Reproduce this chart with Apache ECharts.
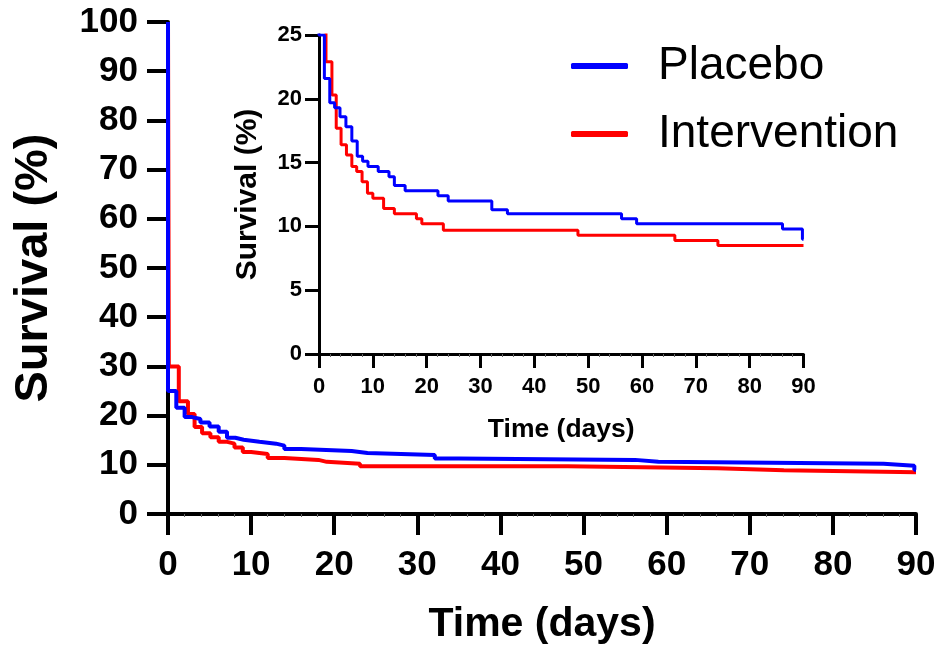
<!DOCTYPE html>
<html>
<head>
<meta charset="utf-8">
<script src="https://cdn.jsdelivr.net/npm/echarts@6/dist/echarts.min.js"></script>
<style>
html, body { margin: 0; padding: 0; background: #fff; }
#chart { width: 941px; height: 651px; }
</style>
</head>
<body>
<div id="chart"></div>
<script>
// Kaplan-Meier steps: day of each step, survival (%) after it
var placeboDays = [0, 0, 1.0, 2.0, 2.9, 3.9, 5.0, 6.1, 7.1, 8.1, 9.1, 11.0, 13.0, 14.0, 16.0, 22.1, 24.0, 32.1, 35.0, 56.2, 59.0, 86.1, 89.8, 90];
var placeboSurv = [100, 25, 21.6, 19.7, 19.3, 18.6, 17.8, 16.7, 15.5, 15.1, 14.7, 14.3, 13.9, 13.2, 12.8, 12.4, 12.0, 11.3, 11.0, 10.6, 10.2, 9.8, 9.0, 9.0];
var interventionDays = [0, 0.1, 1.3, 2.4, 3.2, 4.1, 5.1, 6.1, 7.0, 8.0, 9.0, 10.0, 12.0, 14.0, 18.1, 19.1, 23.1, 48.1, 66.1, 74.1, 90];
var interventionSurv = [100, 30, 22.9, 20.3, 17.7, 16.4, 15.6, 14.7, 14.3, 13.5, 12.6, 12.2, 11.4, 11.0, 10.6, 10.2, 9.7, 9.3, 8.9, 8.5, 8.5];

// axis ranges / tick steps
var dayMax = 90, dayStep = 10;
var mainMax = 100, mainStep = 10;
var insetMax = 25, insetStep = 5;

var FONT = '"Liberation Sans", Arial, sans-serif';
var BLUE = '#0000ff', RED = '#ff0000';

function pairs(days, surv) {
    return days.map(function (d, i) { return [d, surv[i]]; });
}

function xAxisOf(grid, big) {
    return {
        type: 'value', gridIndex: grid, min: 0, max: dayMax, interval: dayStep,
        name: 'Time (days)', nameLocation: 'middle',
        nameGap: big ? 90 : 62,
        nameTextStyle: { fontFamily: FONT, fontWeight: 'bold', fontSize: big ? 41 : 26.5, color: '#000' },
        axisLine: { lineStyle: { color: '#000', width: big ? 4 : 3 } },
        axisTick: { length: big ? 21 : 14, lineStyle: { color: '#000', width: big ? 4 : 3 } },
        minorTick: { show: true, splitNumber: 5, length: 3, lineStyle: { color: '#666', width: 1 } },
        axisLabel: { fontFamily: FONT, fontWeight: 'bold', fontSize: big ? 35 : 22, color: '#000', margin: big ? 34 : 22 },
        splitLine: { show: false }
    };
}

function yAxisOf(grid, big) {
    return {
        type: 'value', gridIndex: grid, min: 0,
        max: big ? mainMax : insetMax, interval: big ? mainStep : insetStep,
        name: 'Survival (%)', nameLocation: 'middle',
        nameGap: big ? 110 : 56,
        nameTextStyle: { fontFamily: FONT, fontWeight: 'bold', fontSize: big ? 47 : 30, color: '#000' },
        axisLine: { show: true, lineStyle: { color: '#000', width: big ? 4 : 3 } },
        axisTick: { show: true, length: big ? 21 : 14, lineStyle: { color: '#000', width: big ? 4 : 3 } },
        axisLabel: { fontFamily: FONT, fontWeight: 'bold', fontSize: big ? 35 : 22, color: '#000', margin: big ? 30 : 17 },
        splitLine: { show: false }
    };
}

function kmSeries(name, color, data, axis, width) {
    return {
        name: name, type: 'line', step: 'end', data: data,
        xAxisIndex: axis, yAxisIndex: axis,
        symbol: 'none', color: color,
        lineStyle: { color: color, width: width }
    };
}

var myChart = echarts.init(document.getElementById('chart'));
var option = {
    animation: false,
    backgroundColor: '#fff',
    grid: [
        { left: 168, top: 22, right: 25, bottom: 137, outerBoundsMode: 'none' },
        { left: 319, top: 35, right: 137.5, bottom: 297, outerBoundsMode: 'none' }
    ],
    legend: {
        orient: 'vertical', left: 571, top: 43, padding: 0,
        itemWidth: 57, itemHeight: 6, itemGap: 22,
        icon: 'roundRect',
        textStyle: { fontFamily: FONT, fontSize: 46, color: '#000', padding: [0, 0, 0, 25] },
        data: ['Placebo', 'Intervention']
    },
    xAxis: [xAxisOf(0, true), xAxisOf(1, false)],
    yAxis: [yAxisOf(0, true), yAxisOf(1, false)],
    series: [
        kmSeries('Intervention', RED, pairs(interventionDays, interventionSurv), 0, 4),
        kmSeries('Placebo', BLUE, pairs(placeboDays, placeboSurv), 0, 4),
        kmSeries('Intervention', RED, pairs(interventionDays, interventionSurv), 1, 3),
        kmSeries('Placebo', BLUE, pairs(placeboDays, placeboSurv), 1, 3)
    ]
};
myChart.setOption(option);
</script>
</body>
</html>
